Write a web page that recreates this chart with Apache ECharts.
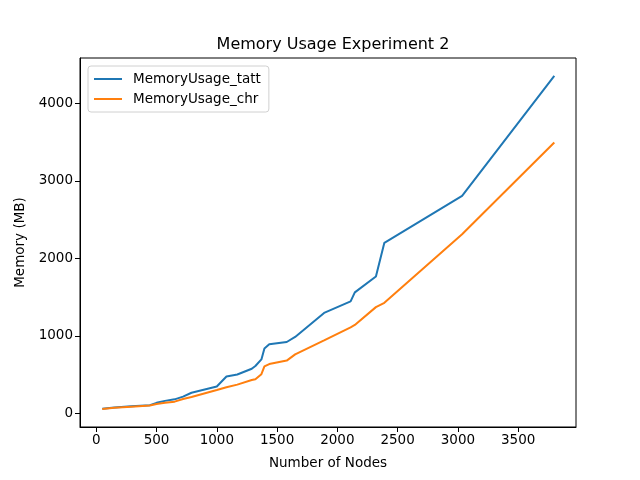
<!DOCTYPE html>
<html>
<head>
<meta charset="utf-8">
<script src="https://cdn.jsdelivr.net/npm/echarts@6/dist/echarts.min.js"></script>
<style>
  html, body { margin: 0; padding: 0; background: #fff; }
  #chart { width: 640px; height: 480px; }
</style>
</head>
<body>
<div id="chart"></div>
<script>
// node counts (shared by both runs)
const nodes = [50, 150, 290, 445, 500, 570, 650, 720, 790, 1000, 1080, 1170, 1290, 1320, 1370, 1395, 1435, 1580, 1650, 1890, 2110, 2145, 2320, 2390, 3035, 3800];
// memory usage in MB
const memTatt = [60, 75, 90, 105, 135, 160, 180, 215, 265, 345, 475, 500, 575, 610, 695, 835, 890, 920, 985, 1295, 1445, 1560, 1765, 2200, 2805, 4355];
const memChr = [55, 70, 85, 100, 120, 135, 150, 185, 210, 300, 335, 370, 430, 440, 505, 605, 635, 680, 760, 940, 1110, 1140, 1370, 1425, 2310, 3495];
// tick labels
const xTicks = [0, 500, 1000, 1500, 2000, 2500, 3000, 3500];
const yTicks = [0, 1000, 2000, 3000, 4000];

const font = "DejaVu Sans";
const chart = echarts.init(document.getElementById("chart"));

// pair up x and y values
const toPoints = (ys) => nodes.map((x, i) => [x, ys[i]]);

chart.setOption({
  animation: false,
  textStyle: { fontFamily: font },
  title: {
    text: "Memory Usage Experiment 2",
    left: 328,
    top: 32,
    textAlign: "center",
    textStyle: { fontFamily: font, fontSize: 16, fontWeight: "normal", color: "#000" },
  },
  legend: {
    orient: "vertical",
    left: 88,
    top: 66,
    padding: [6, 8, 6, 6],
    itemGap: 6,
    itemWidth: 28,
    itemHeight: 2,
    icon: "rect",
    borderColor: "#d0d0d0",
    borderWidth: 1,
    borderRadius: 3,
    backgroundColor: "rgba(255,255,255,0.8)",
    textStyle: { fontFamily: font, fontSize: 13.5, color: "#000", padding: [0, 0, 0, 6] },
    data: ["MemoryUsage_tatt", "MemoryUsage_chr"],
  },
  grid: {
    left: 80,
    right: 64,
    top: 58,
    bottom: 53,
    show: true,
    borderColor: "#000",
    borderWidth: 1,
    containLabel: false,
  },
  xAxis: {
    type: "value",
    min: -135,
    max: 3980,
    name: "Number of Nodes",
    nameLocation: "middle",
    nameGap: 29,
    nameTextStyle: { fontFamily: font, fontSize: 13.5, color: "#000" },
    axisLine: { show: true, onZero: false, lineStyle: { color: "#000", width: 1 } },
    axisTick: { show: true, length: 5, customValues: xTicks, lineStyle: { color: "#000" } },
    axisLabel: {
      customValues: xTicks,
      formatter: (v) => String(v),
      color: "#000",
      fontSize: 13.5,
      fontFamily: font,
      margin: 6,
    },
    splitLine: { show: false },
  },
  yAxis: {
    type: "value",
    min: -177,
    max: 4585,
    name: "Memory (MB)",
    nameLocation: "middle",
    nameGap: 50,
    nameRotate: 90,
    nameTextStyle: { fontFamily: font, fontSize: 13.5, color: "#000" },
    axisLine: { show: true, onZero: false, lineStyle: { color: "#000", width: 1 } },
    axisTick: { show: true, length: 5, customValues: yTicks, lineStyle: { color: "#000" } },
    axisLabel: {
      customValues: yTicks,
      formatter: (v) => String(v),
      color: "#000",
      fontSize: 13.5,
      fontFamily: font,
      margin: 7,
    },
    splitLine: { show: false },
  },
  series: [
    {
      name: "MemoryUsage_tatt",
      type: "line",
      data: toPoints(memTatt),
      showSymbol: false,
      color: "#1f77b4",
      lineStyle: { width: 2, color: "#1f77b4" },
    },
    {
      name: "MemoryUsage_chr",
      type: "line",
      data: toPoints(memChr),
      showSymbol: false,
      color: "#ff7f0e",
      lineStyle: { width: 2, color: "#ff7f0e" },
    },
  ],
});
</script>
</body>
</html>
